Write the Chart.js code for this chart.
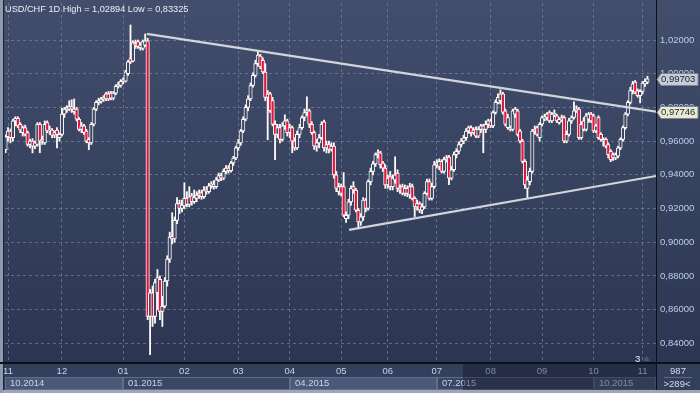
<!DOCTYPE html>
<html><head><meta charset="utf-8">
<script src="https://cdn.jsdelivr.net/npm/chart.js@4/dist/chart.umd.min.js"></script>
<style>html,body{margin:0;padding:0;background:#333e58;overflow:hidden}canvas{display:block}</style>
</head><body>
<canvas id="c" width="700" height="393"></canvas>
<script>
// ---- DATA (USD/CHF daily, index -1 .. 261) ----
const firstIndex = -1;
const opens = [
.9549,.9626,.9660,.9620,.9720,.9735,.9700,.9650,.9680,.9650,
.9580,.9600,.9570,.9580,.9700,.9600,.9590,.9710,.9660,.9665,
.9635,.9665,.9620,.9640,.9760,.9790,.9790,.9805,.9775,.9790,
.9730,.9670,.9690,.9660,.9610,.9590,.9700,.9790,.9830,.9835,
.9850,.9880,.9850,.9885,.9855,.9885,.9925,.9930,.9955,.9955,
1.0000,1.0090,1.0075,1.0180,1.0190,1.0155,1.0150,1.0170,1.0195,.8560,
.8700,.8560,.8700,.8780,.8590,.8620,.8770,.8900,.9035,.9020,
.9130,.9230,.9200,.9215,.9260,.9225,.9275,.9240,.9260,.9280,
.9295,.9270,.9310,.9300,.9335,.9345,.9330,.9370,.9395,.9380,
.9420,.9440,.9425,.9470,.9500,.9560,.9590,.9660,.9730,.9800,
.9850,.9930,.9990,1.0060,1.0105,1.0080,1.0010,.9860,.9880,.9840,
.9700,.9640,.9680,.9610,.9690,.9720,.9650,.9680,.9600,.9560,
.9640,.9680,.9740,.9770,.9780,.9700,.9650,.9570,.9590,.9620,
.9715,.9560,.9580,.9550,.9570,.9400,.9300,.9330,.9330,.9140,
.9160,.9240,.9330,.9310,.9190,.9120,.9150,.9250,.9200,.9360,
.9420,.9465,.9520,.9530,.9470,.9440,.9340,.9390,.9330,.9370,
.9410,.9310,.9330,.9290,.9320,.9280,.9330,.9260,.9210,.9230,
.9190,.9210,.9290,.9360,.9260,.9330,.9460,.9450,.9480,.9420,
.9490,.9505,.9380,.9430,.9520,.9540,.9580,.9600,.9620,.9660,
.9680,.9650,.9670,.9630,.9670,.9690,.9670,.9700,.9720,.9690,
.9770,.9830,.9840,.9880,.9780,.9680,.9680,.9670,.9760,.9780,
.9660,.9600,.9480,.9320,.9360,.9420,.9660,.9680,.9620,.9700,
.9730,.9740,.9770,.9720,.9755,.9750,.9710,.9725,.9740,.9600,
.9640,.9720,.9740,.9780,.9790,.9620,.9720,.9670,.9730,.9760,
.9750,.9660,.9740,.9640,.9600,.9610,.9580,.9540,.9520,.9500,
.9510,.9560,.9610,.9680,.9760,.9830,.9900,.9950,.9900,.9870,
.9895,.9940,.9950];
const highs = [
.9638,.9680,.9672,.9730,.9745,.9745,.9710,.9690,.9695,.9660,
.9610,.9615,.9600,.9710,.9710,.9630,.9720,.9720,.9690,.9675,
.9660,.9680,.9650,.9795,.9800,.9810,.9840,.9845,.9850,.9800,
.9740,.9710,.9700,.9670,.9620,.9710,.9800,.9840,.9855,.9860,
.9870,.9890,.9895,.9895,.9895,.9935,.9950,.9965,.9975,1.0020,
1.0080,1.0289,1.0195,1.0200,1.0200,1.0185,1.0200,1.0236,1.0210,.8720,
.8740,.8780,.8838,.8800,.8680,.8790,.8920,.9060,.9175,.9150,
.9265,.9250,.9250,.9353,.9300,.9330,.9290,.9310,.9300,.9310,
.9310,.9330,.9330,.9350,.9360,.9365,.9385,.9410,.9410,.9435,
.9455,.9455,.9480,.9510,.9570,.9610,.9670,.9745,.9815,.9870,
.9945,1.0005,1.0080,1.0129,1.0115,1.0095,1.0060,.9900,.9890,.9860,
.9720,.9700,.9700,.9710,.9756,.9730,.9700,.9690,.9620,.9660,
.9700,.9750,.9790,.9863,.9790,.9715,.9660,.9610,.9640,.9715,
.9725,.9600,.9600,.9590,.9590,.9420,.9350,.9345,.9413,.9180,
.9255,.9335,.9359,.9320,.9200,.9170,.9265,.9260,.9370,.9440,
.9480,.9530,.9549,.9540,.9480,.9460,.9400,.9420,.9400,.9507,
.9430,.9340,.9345,.9340,.9335,.9350,.9345,.9270,.9250,.9240,
.9230,.9300,.9375,.9375,.9350,.9480,.9490,.9495,.9490,.9505,
.9515,.9515,.9450,.9535,.9555,.9595,.9615,.9635,.9675,.9690,
.9690,.9680,.9685,.9685,.9700,.9700,.9720,.9730,.9730,.9780,
.9845,.9880,.9904,.9890,.9790,.9760,.9690,.9790,.9800,.9790,
.9670,.9610,.9490,.9390,.9440,.9670,.9690,.9690,.9710,.9750,
.9760,.9770,.9780,.9770,.9785,.9760,.9740,.9755,.9750,.9660,
.9735,.9750,.9833,.9810,.9800,.9715,.9740,.9765,.9770,.9770,
.9760,.9700,.9750,.9650,.9620,.9620,.9590,.9550,.9530,.9530,
.9570,.9620,.9690,.9770,.9840,.9920,.9955,.9960,.9910,.9905,
.9955,.9970,.9985];
const lows = [
.9531,.9600,.9590,.9600,.9690,.9680,.9650,.9630,.9630,.9570,
.9560,.9530,.9555,.9570,.9531,.9580,.9580,.9650,.9640,.9620,
.9620,.9560,.9600,.9630,.9740,.9770,.9780,.9770,.9760,.9720,
.9660,.9650,.9640,.9590,.9549,.9580,.9690,.9780,.9815,.9825,
.9835,.9840,.9840,.9845,.9845,.9875,.9915,.9920,.9940,.9950,
.9990,1.0060,1.0070,1.0150,1.0150,1.0140,1.0140,1.0160,.8540,.8333,
.8500,.8520,.8600,.8540,.8500,.8610,.8740,.8880,.8990,.9000,
.9110,.9170,.9180,.9200,.9210,.9210,.9220,.9230,.9240,.9260,
.9255,.9260,.9285,.9290,.9320,.9315,.9320,.9360,.9365,.9370,
.9405,.9410,.9415,.9455,.9490,.9545,.9575,.9650,.9720,.9780,
.9840,.9920,.9980,1.0045,1.0030,1.0000,.9840,.9608,.9770,.9690,
.9490,.9620,.9590,.9600,.9670,.9630,.9620,.9531,.9545,.9550,
.9620,.9670,.9720,.9750,.9680,.9640,.9550,.9540,.9560,.9610,
.9540,.9530,.9530,.9540,.9380,.9300,.9280,.9275,.9150,.9117,
.9140,.9220,.9290,.9180,.9081,.9100,.9130,.9180,.9190,.9340,
.9400,.9450,.9500,.9440,.9420,.9320,.9320,.9310,.9310,.9350,
.9300,.9290,.9280,.9275,.9270,.9260,.9250,.9152,.9190,.9175,
.9170,.9200,.9280,.9250,.9250,.9320,.9440,.9430,.9410,.9410,
.9475,.9342,.9370,.9420,.9500,.9525,.9565,.9585,.9605,.9645,
.9630,.9640,.9620,.9620,.9650,.9531,.9650,.9680,.9680,.9680,
.9760,.9820,.9820,.9760,.9690,.9670,.9660,.9660,.9740,.9630,
.9590,.9470,.9320,.9265,.9340,.9410,.9640,.9630,.9600,.9690,
.9720,.9725,.9710,.9710,.9745,.9710,.9700,.9715,.9590,.9590,
.9630,.9705,.9730,.9770,.9610,.9610,.9660,.9660,.9710,.9710,
.9650,.9650,.9610,.9600,.9570,.9560,.9500,.9478,.9485,.9490,
.9500,.9550,.9600,.9670,.9750,.9820,.9880,.9880,.9860,.9827,
.9880,.9925,.9940];
const closes = [
.9626,.9660,.9620,.9720,.9735,.9690,.9665,.9680,.9640,.9580,
.9600,.9570,.9590,.9700,.9600,.9610,.9700,.9660,.9665,.9635,
.9650,.9640,.9640,.9760,.9790,.9800,.9805,.9790,.9790,.9730,
.9670,.9690,.9650,.9600,.9590,.9700,.9790,.9830,.9840,.9850,
.9860,.9850,.9880,.9855,.9885,.9925,.9935,.9955,.9960,1.0011,
1.0070,1.0070,1.0185,1.0170,1.0160,1.0170,1.0190,1.0195,.8560,.8700,
.8560,.8760,.8790,.8590,.8620,.8770,.8900,.9030,.9020,.9130,
.9230,.9200,.9220,.9260,.9225,.9270,.9240,.9265,.9280,.9290,
.9270,.9310,.9300,.9335,.9345,.9330,.9370,.9395,.9380,.9420,
.9440,.9425,.9470,.9500,.9560,.9590,.9660,.9730,.9800,.9850,
.9930,.9990,1.0060,1.0110,1.0040,1.0010,.9860,.9880,.9780,.9700,
.9640,.9680,.9610,.9690,.9720,.9650,.9680,.9600,.9560,.9640,
.9680,.9740,.9770,.9780,.9700,.9650,.9570,.9590,.9620,.9700,
.9560,.9580,.9550,.9570,.9400,.9320,.9330,.9290,.9160,.9160,
.9240,.9320,.9310,.9190,.9120,.9150,.9250,.9200,.9360,.9420,
.9465,.9520,.9530,.9460,.9440,.9340,.9380,.9330,.9380,.9400,
.9320,.9320,.9290,.9320,.9290,.9330,.9260,.9210,.9230,.9190,
.9210,.9290,.9360,.9260,.9330,.9460,.9470,.9480,.9420,.9490,
.9500,.9380,.9430,.9520,.9540,.9580,.9600,.9620,.9660,.9680,
.9650,.9665,.9630,.9670,.9690,.9670,.9700,.9720,.9690,.9770,
.9830,.9860,.9880,.9770,.9700,.9740,.9670,.9780,.9790,.9640,
.9600,.9480,.9340,.9370,.9420,.9660,.9670,.9640,.9700,.9740,
.9745,.9760,.9720,.9760,.9765,.9720,.9730,.9740,.9600,.9640,
.9720,.9740,.9780,.9790,.9620,.9700,.9670,.9750,.9760,.9720,
.9660,.9690,.9620,.9610,.9610,.9570,.9520,.9490,.9500,.9520,
.9560,.9610,.9680,.9760,.9830,.9900,.9940,.9890,.9870,.9895,
.9945,.9955,.99703];

const monthStarts = [0,22,47,72,94,115,136,155,175,197,218,239,259];
const monthLabels = ['11','12','01','02','03','04','05','06','07','08','09','10','11'];
const quarterStarts = [-1.2245,47,115,175,239];
const quarterLabels = ['10.2014','01.2015','04.2015','07.2015','10.2015'];
const priceTicks = [0.84,0.86,0.88,0.90,0.92,0.94,0.96,0.98,1.00,1.02];
const upperTrendX = [56.7,264.49];
const upperTrendY = [1.0236,0.97746];
const lowerTrendX = [139.2,264.49];
const lowerTrendY = [0.9073,0.9393];
const titleText = 'USD/CHF 1D High = 1,02894 Low = 0,83325';
const barsCountText = '987';
const visibleCountText = '>289<';
const navigatorStart = 185.7;

// ---- axis ranges ----
const xMin = -1.2245, xMax = 264.49;
const yMin = 0.82833, yMax = 1.04196;

const FONT = 'Liberation Sans, Arial, sans-serif';
const fmt = v => v.toFixed(5).replace('.', ',');

const candleX = opens.map((_, k) => firstIndex + k);
const bodies = opens.map((o, k) => ({x: candleX[k], y: [o, closes[k]]}));
const wicks = opens.map((o, k) => ({x: candleX[k], y: [lows[k], highs[k]]}));
const bodyColors = opens.map((o, k) => closes[k] < o ? '#e3143c' : '#3a4764');

const decor = {
  id: 'decor',
  beforeDraw(chart) {
    const ctx = chart.ctx, a = chart.chartArea, W = chart.width, H = chart.height;
    const xs = chart.scales.x;
    ctx.save();
    const g = ctx.createLinearGradient(0, 0, 0, a.bottom);
    g.addColorStop(0, '#424e6c');
    g.addColorStop(1, '#2c3652');
    ctx.fillStyle = g;
    ctx.fillRect(0, 0, W, a.bottom);
    ctx.fillStyle = '#343f5b';
    ctx.fillRect(0, a.bottom, W, H - a.bottom);
    for (let k = 0; k < quarterStarts.length; k++) {
      const x0 = k === 0 ? a.left : Math.round(xs.getPixelForValue(quarterStarts[k]));
      const x1 = k + 1 < quarterStarts.length ? Math.round(xs.getPixelForValue(quarterStarts[k + 1])) : a.right;
      ctx.fillStyle = k % 2 === 0 ? '#4b5878' : '#3b4765';
      ctx.fillRect(x0, 377, x1 - x0, 13);
      ctx.strokeStyle = '#606d8b';
      ctx.lineWidth = 1;
      ctx.strokeRect(x0 + 0.5, 377.5, x1 - x0 - 1, 12);
      ctx.fillStyle = '#c8d5ec';
      ctx.font = '9.5px ' + FONT;
      ctx.textAlign = 'left';
      ctx.textBaseline = 'middle';
      ctx.fillText(quarterLabels[k], x0 + 5, 383.5);
    }
    ctx.restore();
  },
  afterDraw(chart) {
    const ctx = chart.ctx, a = chart.chartArea, W = chart.width, H = chart.height;
    const xs = chart.scales.x, ys = chart.scales.y;
    ctx.save();
    const nx = Math.round(xs.getPixelForValue(navigatorStart));
    ctx.fillStyle = 'rgba(14,20,34,0.40)';
    ctx.fillRect(nx, a.bottom, a.right - nx, 390 - a.bottom);
    ctx.fillStyle = '#9ea7b8';
    ctx.fillRect(0, 390, W, 3);
    ctx.fillStyle = '#8e99ae';
    ctx.fillRect(0, 0, 3, H);
    ctx.fillStyle = '#1d2436';
    ctx.fillRect(3, 0, 1, 390);
    ctx.fillStyle = '#0c1017';
    ctx.fillRect(0, a.bottom - 1, W, 2);
    ctx.fillRect(a.right, 0, 1, 390);
    ctx.fillStyle = '#d2dcee';
    ctx.font = '9.5px ' + FONT;
    ctx.textAlign = 'center';
    ctx.textBaseline = 'middle';
    ctx.fillText(barsCountText, 678, 371);
    ctx.fillText(visibleCountText, 677, 384);
    ctx.strokeStyle = '#5d6a88';
    ctx.beginPath(); ctx.moveTo(664, 377.5); ctx.lineTo(692, 377.5); ctx.stroke();
    ctx.fillStyle = '#eaf0fa';
    ctx.font = '9.2px ' + FONT;
    ctx.textAlign = 'left';
    ctx.textBaseline = 'alphabetic';
    ctx.fillText(titleText, 5, 11.5);
    ctx.fillStyle = '#e8eef8';
    ctx.font = '9.5px ' + FONT;
    ctx.fillText('3', 635, 361.5);
    ctx.fillStyle = '#4e5669';
    ctx.beginPath(); ctx.moveTo(643, 361); ctx.lineTo(650, 361); ctx.lineTo(646.5, 356); ctx.closePath(); ctx.fill();
    const tag = (v, fill) => {
      const y = Math.round(ys.getPixelForValue(v)) + 0.5;
      const x0 = a.right + 1, x1 = 698, h = 12;
      ctx.beginPath();
      ctx.moveTo(x0, y);
      ctx.lineTo(x0 + 4, y - h / 2);
      ctx.lineTo(x1, y - h / 2);
      ctx.lineTo(x1, y + h / 2);
      ctx.lineTo(x0 + 4, y + h / 2);
      ctx.closePath();
      ctx.fillStyle = fill; ctx.fill();
      ctx.strokeStyle = '#7c8496'; ctx.lineWidth = 1; ctx.stroke();
      ctx.fillStyle = '#1b2438';
      ctx.font = '9.5px ' + FONT;
      ctx.textAlign = 'left';
      ctx.textBaseline = 'middle';
      ctx.fillText(fmt(v), x0 + 4, y);
    };
    tag(closes[closes.length - 1], '#c6cbd5');
    tag(upperTrendY[upperTrendY.length - 1], '#e8e9d0');
    ctx.restore();
  }
};

new Chart(document.getElementById('c'), {
  type: 'bar',
  data: {
    datasets: [
      {type: 'line', data: upperTrendX.map((x, k) => ({x, y: upperTrendY[k]})),
       borderColor: 'rgba(218,220,226,0.95)', borderWidth: 2.2, pointRadius: 0, order: 0},
      {type: 'line', data: lowerTrendX.map((x, k) => ({x, y: lowerTrendY[k]})),
       borderColor: 'rgba(218,220,226,0.95)', borderWidth: 2.2, pointRadius: 0, order: 0},
      {type: 'bar', data: bodies, backgroundColor: bodyColors, borderColor: '#fdf7f5',
       borderWidth: 1, borderSkipped: false, barThickness: 3.5, grouped: false, order: 1},
      {type: 'bar', data: wicks, backgroundColor: '#fdf7f5', borderWidth: 0,
       barThickness: 1.2, grouped: false, order: 2}
    ]
  },
  options: {
    responsive: false,
    animation: false,
    devicePixelRatio: 1,
    events: [],
    layout: {padding: {left: 5, top: 3, right: 0, bottom: 0}},
    plugins: {legend: {display: false}, tooltip: {enabled: false}},
    scales: {
      x: {
        type: 'linear', min: xMin, max: xMax, offset: false, bounds: 'data',
        afterBuildTicks: s => { s.ticks = monthStarts.map(v => ({value: v})); },
        afterFit: s => { s.height = 30; s.paddingLeft = 0; s.paddingRight = 0; },
        grid: {color: 'rgba(125,141,172,0.6)', lineWidth: 1, drawTicks: false, offset: false},
        border: {display: false, dash: [3, 3]},
        ticks: {autoSkip: false, maxRotation: 0, padding: 3, color: '#c5d3ec',
                font: {family: FONT, size: 9.5}, callback: (v, i) => monthLabels[i]}
      },
      y: {
        type: 'linear', position: 'right', min: yMin, max: yMax, bounds: 'data',
        afterBuildTicks: s => { s.ticks = priceTicks.map(v => ({value: v})); },
        afterFit: s => { s.width = 44; s.paddingTop = 0; s.paddingBottom = 0; },
        grid: {color: 'rgba(125,141,172,0.6)', lineWidth: 1, drawTicks: false},
        border: {display: false, dash: [3, 3]},
        ticks: {padding: 4, color: '#bccdea', font: {family: FONT, size: 9.5},
                callback: v => fmt(v)}
      }
    }
  },
  plugins: [decor]
});
</script>
</body></html>
